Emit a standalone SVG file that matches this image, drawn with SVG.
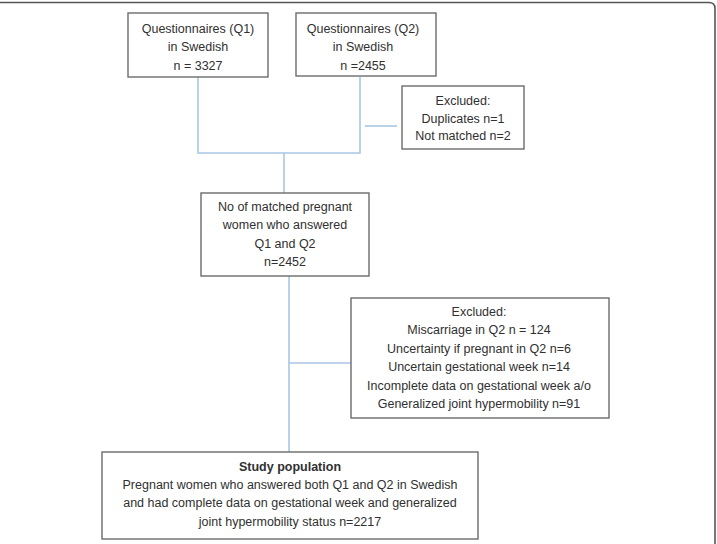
<svg xmlns="http://www.w3.org/2000/svg" width="717" height="544" viewBox="0 0 717 544">
<style>
.box{fill:#fff;stroke:#6b6b6b;stroke-width:1.4}
.t{font-family:"Liberation Sans",Arial,sans-serif;font-size:12.5px;fill:#303030;text-anchor:middle}
.b{font-weight:bold}
.c{fill:none;stroke:#a8c6e4;stroke-width:1.6}
</style>
<rect width="717" height="544" fill="#fff"/>
<path d="M0 2.5 H709 Q715 2.5 715 8.5 V544" fill="none" stroke="#555" stroke-width="1.6"/>
<g id="connectors">
<path class="c" d="M198 77 V153 H360 V77"/>
<path class="c" d="M284 153 V193"/>
<path class="c" d="M365 126 H397"/>
<path class="c" d="M289 276 V452"/>
<path class="c" d="M289 363 H351"/>
</g>
<g id="q1">
<rect class="box" x="128" y="13" width="140" height="64"/>
<text class="t" x="198" y="33">Questionnaires (Q1)</text>
<text class="t" x="198" y="51">in Swedish</text>
<text class="t" x="198" y="70">n = 3327</text>
</g>
<g id="q2">
<rect class="box" x="296" y="13" width="140" height="63"/>
<text class="t" x="363" y="33">Questionnaires (Q2)</text>
<text class="t" x="363" y="51">in Swedish</text>
<text class="t" x="363" y="70">n =2455</text>
</g>
<g id="excluded1">
<rect class="box" x="402" y="86" width="122" height="63"/>
<text class="t" x="463" y="105">Excluded:</text>
<text class="t" x="463" y="123">Duplicates n=1</text>
<text class="t" x="463" y="140">Not matched n=2</text>
</g>
<g id="matched">
<rect class="box" x="201" y="193" width="168" height="83"/>
<text class="t" x="285" y="211">No of matched pregnant</text>
<text class="t" x="285" y="229">women who answered</text>
<text class="t" x="285" y="248">Q1 and Q2</text>
<text class="t" x="285" y="266">n=2452</text>
</g>
<g id="excluded2">
<rect class="box" x="351" y="298" width="258" height="120"/>
<text class="t" x="479" y="316">Excluded:</text>
<text class="t" x="479" y="334">Miscarriage in Q2 n = 124</text>
<text class="t" x="479" y="353">Uncertainty if pregnant in Q2 n=6</text>
<text class="t" x="479" y="371">Uncertain gestational week n=14</text>
<text class="t" x="479" y="390">Incomplete data on gestational week a/o</text>
<text class="t" x="479" y="408">Generalized joint hypermobility n=91</text>
</g>
<g id="study">
<rect class="box" x="102" y="452" width="376" height="87"/>
<text class="t b" x="290" y="471">Study population</text>
<text class="t" x="290" y="489">Pregnant women who answered both Q1 and Q2 in Swedish</text>
<text class="t" x="290" y="507">and had complete data on gestational week and generalized</text>
<text class="t" x="290" y="526">joint hypermobility status n=2217</text>
</g>
</svg>
